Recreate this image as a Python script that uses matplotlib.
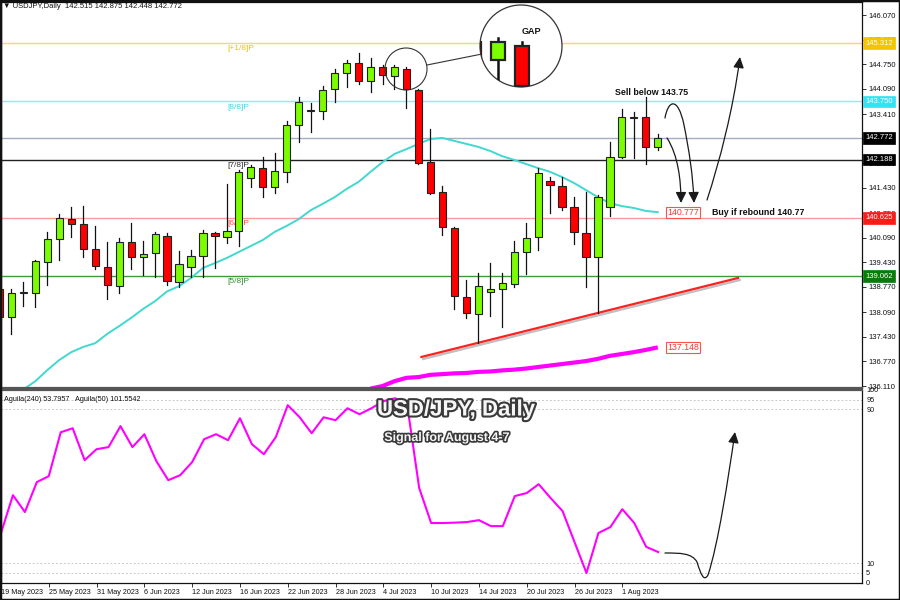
import matplotlib
matplotlib.use("Agg")
import matplotlib.pyplot as plt
import matplotlib.patheffects as pe
from matplotlib.lines import Line2D
from matplotlib.patches import Rectangle, Circle, FancyArrowPatch
from matplotlib.path import Path
from matplotlib.transforms import Affine2D, blended_transform_factory

# ---------------------------------------------------------------- data
opens = [138.71, 137.96, 138.60, 138.61, 139.44, 140.06, 140.59, 140.46, 139.79, 139.31,
         138.79, 139.98, 139.57, 139.68, 140.14, 138.90, 139.31, 139.60, 140.22, 140.11,
         140.27, 141.69, 141.96, 141.45, 141.86, 143.12, 143.49, 143.49, 144.08, 144.51,
         144.78, 144.30, 144.67, 144.43, 144.62, 144.06, 142.12, 141.32, 140.35, 138.50,
         138.04, 138.63, 138.71, 138.85, 139.71, 140.11, 141.61, 141.48, 140.92, 140.22,
         139.57, 140.92, 142.26, 143.33, 143.33, 142.515]
highs = [138.79, 138.71, 138.90, 139.49, 140.25, 140.73, 140.92, 140.94, 140.41, 139.98,
         140.08, 140.49, 140.00, 140.25, 140.22, 139.74, 139.76, 140.30, 140.25, 141.53,
         141.90, 142.04, 142.26, 142.37, 143.23, 143.87, 143.71, 144.16, 144.62, 144.86,
         145.05, 144.92, 144.73, 144.73, 144.67, 144.08, 143.01, 141.48, 140.38, 138.96,
         139.14, 139.41, 139.14, 140.00, 140.49, 141.96, 141.72, 141.72, 141.18, 141.32,
         141.24, 142.66, 143.55, 143.47, 143.87, 142.875]
lows = [137.88, 137.51, 138.26, 138.23, 138.82, 139.49, 140.11, 139.57, 139.25, 138.45,
        138.61, 139.25, 139.09, 139.04, 138.82, 138.77, 139.04, 139.04, 139.28, 139.95,
        139.87, 141.45, 141.18, 141.29, 141.59, 142.66, 142.93, 143.28, 143.73, 144.14,
        144.22, 144.00, 144.22, 144.08, 143.57, 142.07, 141.26, 140.16, 138.18, 137.94,
        137.26, 137.99, 137.70, 138.77, 139.12, 139.76, 140.75, 140.84, 139.92, 138.77,
        138.07, 140.67, 142.23, 142.23, 142.07, 142.448]
closes = [137.96, 138.61, 138.63, 139.47, 140.06, 140.62, 140.46, 139.79, 139.33, 138.82,
          139.98, 139.57, 139.65, 140.19, 138.93, 139.39, 139.60, 140.22, 140.14, 140.27,
          141.86, 141.99, 141.45, 141.88, 143.12, 143.73, 143.51, 144.06, 144.51, 144.78,
          144.30, 144.67, 144.46, 144.67, 144.08, 142.10, 141.29, 140.38, 138.53, 138.07,
          138.79, 138.71, 138.88, 139.71, 140.08, 141.83, 141.51, 140.92, 140.25, 139.57,
          141.18, 142.26, 143.33, 143.31, 142.53, 142.772]

# 21-day MA (teal), starts at bar 2
ma_fast_start = 2
ma_fast = [136.02, 136.24, 136.54, 136.81, 137.02, 137.16, 137.26, 137.51, 137.72, 137.94,
           138.18, 138.39, 138.65, 138.79, 139.01, 139.28, 139.41, 139.55, 139.71, 139.87,
           140.03, 140.25, 140.41, 140.59, 140.83, 141.00, 141.18, 141.40, 141.59, 141.86,
           142.12, 142.34, 142.47, 142.61, 142.74, 142.77, 142.69, 142.61, 142.53, 142.42,
           142.28, 142.18, 142.07, 141.96, 141.86, 141.72, 141.56, 141.37, 141.18, 141.02,
           140.94, 140.89, 140.81, 140.777]
# 200-day MA (magenta), starts at bar 31
ma_slow_start = 31
ma_slow = [136.04, 136.11, 136.24, 136.33, 136.35, 136.41, 136.43, 136.45, 136.46, 136.49,
           136.50, 136.53, 136.55, 136.58, 136.62, 136.66, 136.70, 136.74, 136.78, 136.84,
           136.92, 136.97, 137.02, 137.08, 137.148]

aguila = [25.6, 45.3, 36.5, 52.1, 55.2, 78.0, 80.1, 63.5, 69.2, 70.3, 81.2, 70.3, 77.0, 63.0,
          53.1, 55.7, 62.5, 74.4, 77.0, 73.9, 85.3, 71.8, 66.6, 75.5, 92.1, 85.8, 77.5, 85.8,
          84.3, 90.5, 87.4, 90.5, 94.2, 95.7, 92.1, 49.0, 30.8, 30.8, 31.0, 31.3, 32.3, 29.2,
          29.2, 44.8, 46.4, 51.0, 43.8, 37.0, 20.9, 4.8, 25.6, 28.7, 38.0, 30.8, 18.4, 15.7]

level_prices = [145.312, 143.750, 142.188, 140.625, 139.062]
level_names = ["[+1/8]P", "[8/8]P", "[7/8]P", "[6/8]P", "[5/8]P"]
level_colors = ["#f5d76e", "#7ff0f4", "#222222", "#ff9a9a", "#3c9a3c"]
level_text_colors = ["#efbf1a", "#3fd8e6", "#333333", "#ff4a4a", "#2f8f2f"]
level_box_colors = ["#f5c400", "#33e3f5", "#000000", "#ff1a1a", "#0a7a0a"]

price_ticks = [146.070, 145.410, 144.750, 144.090, 143.410, 142.750, 142.090, 141.430,
               140.750, 140.090, 139.430, 138.770, 138.090, 137.430, 136.770, 136.110]

trend_x = [35.25, 61.7]
trend_y = [136.89, 139.01]

date_idx = [0, 4, 8, 12, 16, 20, 24, 28, 32, 36, 40, 44, 48, 52]
date_labels = ["19 May 2023", "25 May 2023", "31 May 2023", "6 Jun 2023", "12 Jun 2023",
               "16 Jun 2023", "22 Jun 2023", "28 Jun 2023", "4 Jul 2023", "10 Jul 2023",
               "14 Jul 2023", "20 Jul 2023", "26 Jul 2023", "1 Aug 2023"]

GREEN = "#7cfc00"
RED = "#ff0000"
TEAL = "#40d8d0"
MAGENTA = "#ff00ff"

plt.rcParams["font.family"] = ["Liberation Sans", "DejaVu Sans"]
plt.rcParams["font.size"] = 5.5

fig = plt.figure(figsize=(9, 6), dpi=100, facecolor="white")
# image pixel coords (origin top-left) -> display
pix = Affine2D().scale(1 / 900, -1 / 600).translate(0, 1) + fig.transFigure

ax = fig.add_axes([1 / 900, 212 / 600, 861 / 900, 386 / 600])
ax2 = fig.add_axes([1 / 900, 17 / 600, 861 / 900, 193 / 600])

n = len(opens)
BW = 0.6


def draw_candles(trans, scale=1.0, clip=None):
    for i in range(n):
        o, h, l, c = opens[i], highs[i], lows[i], closes[i]
        col = GREEN if c >= o else RED
        wick = Line2D([i, i], [l, h], color="#111111", lw=0.9 * scale,
                      transform=trans, zorder=3)
        body = Rectangle((i - BW / 2, min(o, c)), BW, max(abs(c - o), 0.006),
                         fc=col, ec="#222222", lw=0.8 * scale, transform=trans, zorder=3.1)
        if clip is None:
            ax.add_line(wick)
            ax.add_patch(body)
        else:
            for a in (wick, body):
                a.set_clip_path(clip)
                a.set_zorder(7.5)
                fig.add_artist(a)


# ---------------------------------------------------------------- main panel
ax.set_xlim(0.125, 72.06)
ax.set_ylim(136.057, 146.419)

for p, name, lc, tc in zip(level_prices, level_names, level_colors, level_text_colors):
    ax.axhline(p, color=lc, lw=1.0, zorder=1)
    ax.annotate(name, (19.05, p), xytext=(0, -1.5), textcoords="offset points",
                ha="left", va="top", color=tc, fontsize=6, zorder=2)
ax.axhline(closes[-1], color="#a3abc6", lw=1.0, zorder=1)

xs_fast = list(range(ma_fast_start, ma_fast_start + len(ma_fast)))
ax.plot(xs_fast, ma_fast, color=TEAL, lw=1.4, zorder=2.5)
xs_slow = list(range(ma_slow_start, ma_slow_start + len(ma_slow)))
ax.plot(xs_slow, ma_slow, color=MAGENTA, lw=3.0, zorder=2.5, solid_capstyle="butt")

ax.plot(trend_x, trend_y, color="#ff2020", lw=1.6, zorder=2.6,
        path_effects=[pe.SimpleLineShadow(offset=(1.2, -1.5), alpha=0.25), pe.Normal()])

draw_candles(ax.transData)

# boxed value labels at the end of the MAs
for xs, vals, txt in ((xs_fast, ma_fast, "140.777"), (xs_slow, ma_slow, "137.148")):
    ax.text(xs[-1] + 0.75, vals[-1], txt, ha="left", va="center", color="#ff3030",
            fontsize=6.3, zorder=5,
            bbox=dict(boxstyle="square,pad=0.12", fc="white", ec="#ff5050", lw=0.8))

# right price scale
ax.yaxis.tick_right()
ax.set_yticks(price_ticks)
ax.set_yticklabels([f"{t:.3f}" for t in price_ticks])
ax.tick_params(axis="y", length=3, width=0.6, pad=1.5, labelsize=5.5, colors="#111111")
ax.set_xticks([])
for s in ax.spines.values():
    s.set_color("#111111")
    s.set_linewidth(0.9)
ax.spines["bottom"].set_linewidth(1.6)
ax.spines["bottom"].set_color("#555555")

rtrans = blended_transform_factory(ax.transAxes, ax.transData)
box_prices = level_prices + [closes[-1]]
box_cols = level_box_colors[:2] + ["#000000"] + level_box_colors[3:] + ["#000000"]
for p, bc in zip(box_prices, box_cols):
    ax.text(1.004, p, f"{p:.3f}", transform=rtrans, ha="left", va="center",
            color="white", fontsize=5.5, zorder=6, clip_on=False,
            bbox=dict(boxstyle="square,pad=0.3", fc=bc, ec=bc, lw=0.5))

# header
fig.text(3, 6, "\u25bc USDJPY,Daily  142.515 142.875 142.448 142.772", transform=pix,
         ha="left", va="center", fontsize=5.5, color="#111111")

# circles and magnified gap view
small = Circle((406, 69), 21, transform=pix, fill=False, ec="#333333", lw=0.8, zorder=7)
fig.add_artist(small)
fig.add_artist(Line2D([427, 482], [65, 54], transform=pix, color="#333333", lw=0.8, zorder=7))
big = Circle((521, 46), 41, transform=pix, fc="white", ec="#333333", lw=0.9, zorder=7)
fig.add_artist(big)
magnify = Affine2D().translate(-406, -(600 - 69)).scale(2.0).translate(521, 600 - 46)
clip_circle = Circle((521, 46), 41, transform=pix)
draw_candles(ax.transData + magnify, scale=2.0, clip=clip_circle)
fig.text(531, 32, "GAP", transform=pix, ha="center", va="center", fontsize=6.5,
         fontweight="bold", color="#111111", zorder=8)

# trade notes
ax.text(54.5, 144.0, "Sell below 143.75", ha="center", va="center", fontsize=6.4,
        fontweight="bold", color="#111111", zorder=5)
ax.text(59.55, 140.77, "Buy if rebound 140.77", ha="left", va="center", fontsize=6.4,
        fontweight="bold", color="#111111", zorder=5)


def arrow(points):
    codes = [Path.MOVETO] + [Path.CURVE4] * (len(points) - 1)
    a = FancyArrowPatch(path=Path(points, codes), transform=pix,
                        arrowstyle="-|>,head_length=0.65,head_width=0.32",
                        mutation_scale=10, color="#1a1a1a", lw=0.9, zorder=8,
                        shrinkA=0, shrinkB=0)
    fig.add_artist(a)


arrow([(667, 138), (678, 155), (681, 180), (681, 203)])
arrow([(665, 118), (668, 100), (678, 96), (684, 125), (689, 150), (693, 175), (694, 203)])
arrow([(707, 200), (720, 160), (733, 110), (740, 57)])
arrow([(665, 553), (680, 553), (692, 553), (697, 562), (701, 575), (704, 582),
       (708, 575), (718, 545), (728, 480), (735, 432)])

# ---------------------------------------------------------------- lower panel
ax2.set_xlim(0.125, 72.06)
ax2.set_ylim(-0.4, 99.9)
for v in (5, 10, 90, 95):
    ax2.axhline(v, color="#c8c8c8", lw=0.7, ls=(0, (2, 2)), zorder=1)
ax2.plot(range(n), aguila, color=MAGENTA, lw=1.5, zorder=3)
ax2.yaxis.tick_right()
ax2.set_yticks([0, 5, 10, 90, 95, 100])
ax2.tick_params(axis="y", length=0, pad=3, labelsize=5.2, colors="#111111")
ax2.set_xticks(date_idx)
ax2.set_xticklabels(date_labels, ha="left")
ax2.tick_params(axis="x", length=3, width=0.6, pad=1.5, labelsize=5.2, colors="#111111")
for s in ax2.spines.values():
    s.set_color("#111111")
    s.set_linewidth(0.9)
ax2.spines["top"].set_linewidth(1.6)
ax2.spines["top"].set_color("#555555")

ax2.text(0.003, 0.97, "Aguila(240) 53.7957   Aguila(50) 101.5542", transform=ax2.transAxes,
         ha="left", va="top", fontsize=5.2, color="#111111")

t1 = fig.text(456, 410, "USD/JPY, Daily", transform=pix, ha="center", va="center",
              fontsize=16, fontweight="bold", color="#f6f6f6", zorder=9)
t1.set_path_effects([pe.withStroke(linewidth=3, foreground="#3a3a3a")])
t2 = fig.text(447, 438, "Signal for August 4-7", transform=pix, ha="center", va="center",
              fontsize=9, fontweight="bold", color="#f6f6f6", zorder=9)
t2.set_path_effects([pe.withStroke(linewidth=2.4, foreground="#3a3a3a")])

# outer frame
fig.add_artist(Rectangle((0, 0), 1, 1, transform=fig.transFigure, fill=False,
                         ec="#111111", lw=2.5, zorder=10))

fig.savefig("out.png", dpi=100, facecolor="white")
